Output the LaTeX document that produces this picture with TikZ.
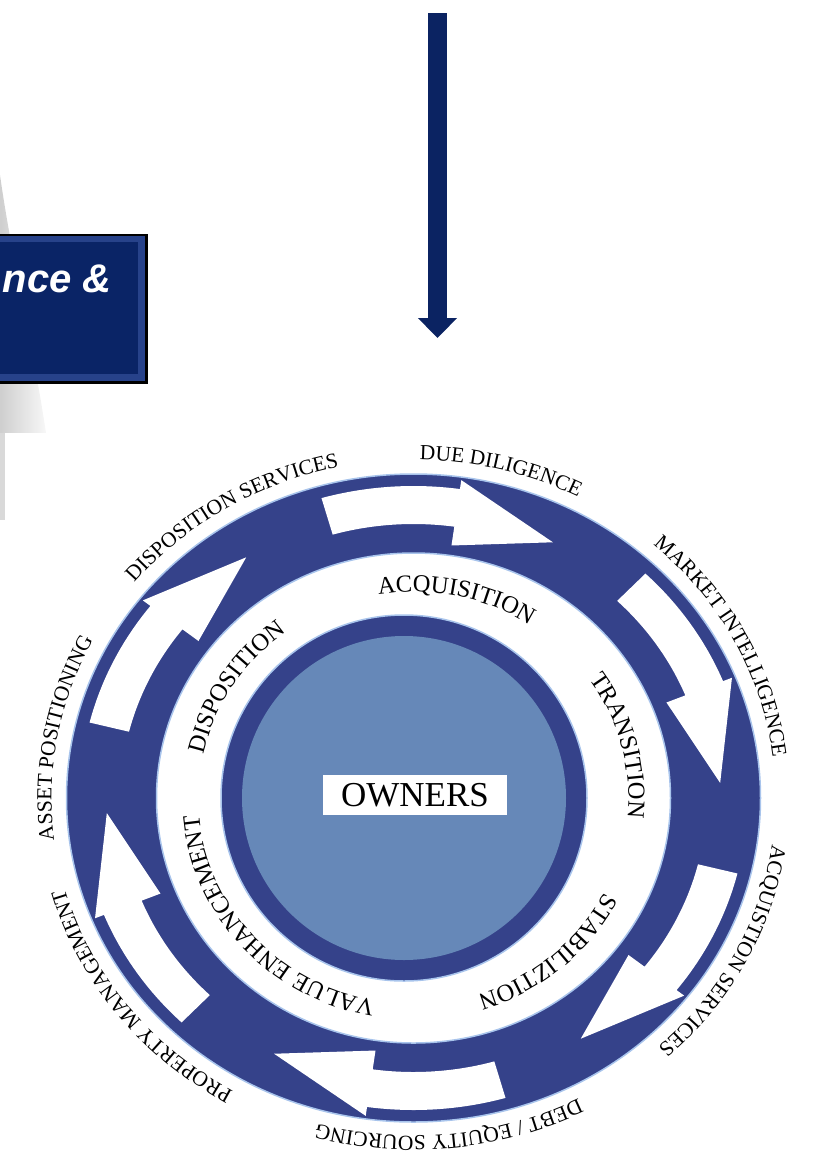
\documentclass[tikz,border=0pt]{standalone}
\usepackage{fontspec}
\setmainfont{Liberation Serif}
\newfontfamily\arialfont{Liberation Sans}
\usetikzlibrary{decorations.text,arrows.meta}
\definecolor{ringblue}{HTML}{35428A}
\definecolor{lightblue}{HTML}{6688B8}
\definecolor{glow}{HTML}{A8C4EC}
\definecolor{navyarrow}{HTML}{0B2362}
\definecolor{boxedge}{HTML}{27428A}
\definecolor{boxnavy}{HTML}{0A2466}
\newcommand\olabfont{\fontsize{21.5}{21.5}\selectfont}
\newcommand\ilabfont{\fontsize{24.5}{24.5}\selectfont}
\tikzset{
  outerlabel/.style={decorate,decoration={text along path,text align=center,text={|\olabfont|#1}}},
  innerlabel/.style={decorate,decoration={text along path,text align=center,text={|\ilabfont|#1}}},
  cyclearrow/.style={fill=white},
  ringedge/.style={draw=glow,line width=1.5pt},
}
\begin{document}
\begin{tikzpicture}[x=1pt,y=-1pt]
\useasboundingbox (0,0) rectangle (817,1163);
% grey backdrop at top left
\shade[left color=gray!38,right color=gray!6] (0,175) .. controls (12,260) and (32,340) .. (46,433) -- (0,433) -- cycle;
\fill[gray!30] (0,433) rectangle (5,520);
\fill[white] (5,433) rectangle (817,1163);
% title box (cut off at the left)
\fill[black] (-2,234) rectangle (148,384);
\fill[boxedge] (-2,236) rectangle (145,381);
\fill[boxnavy] (-2,242) rectangle (138,374);
\node[anchor=base east,text=white,font=\arialfont\bfseries\itshape\fontsize{40}{40}\selectfont,inner sep=0pt] (boxtext) at (112,292) {nce \&};
% top arrow
\coordinate (arrowtop) at (437.5,13);
\coordinate (arrowtip) at (437.5,338);
\draw[navyarrow,line width=19pt,-{Triangle[width=38pt,length=20pt]}] (arrowtop) -- (arrowtip);
% cycle diagram
\begin{scope}[shift={(413.5,798)},yscale=-1]
  \fill[ringblue,even odd rule] (0,0) ellipse[x radius=347,y radius=324] (0,0) ellipse[x radius=257,y radius=245];
  \draw[ringedge] (0,0) ellipse[x radius=347,y radius=324];
  \draw[ringedge] (0,0) ellipse[x radius=257,y radius=245];
  \fill[ringblue] (-9.5,0) circle[radius=183];
  \draw[ringedge] (-9.5,0) circle[radius=183];
  \fill[lightblue] (-9.5,0) circle[radius=162];
  \begin{scope}[xscale=1.07]
    \foreach \k in {0,...,5}{
      \pgfmathsetmacro\T{106-60*\k}
      \pgfmathsetmacro\H{82-60*\k}
      \pgfmathsetmacro\P{63-60*\k}
      \fill[cyclearrow] (\T:312) arc[start angle=\T,end angle=\H,radius=312] -- (\H:321) -- (\P:287) -- (\H:255) -- (\H:274) arc[start angle=\H,end angle=\T,radius=274] -- cycle;
    }
  \end{scope}
  % outer labels
  \path[outerlabel={DISPOSITION SERVICES}] (172:362 and 338) arc[start angle=172,end angle=72,x radius=362,y radius=338];
  \path[outerlabel={DUE DILIGENCE}] (125.5:362 and 338) arc[start angle=125.5,end angle=25.5,x radius=362,y radius=338];
  \path[outerlabel={MARKET INTELLIGENCE}] (77:362 and 338) arc[start angle=77,end angle=-23,x radius=362,y radius=338];
  \path[outerlabel={ACQUISTION SERVICES}] (23:362 and 338) arc[start angle=23,end angle=-77,x radius=362,y radius=338];
  \path[outerlabel={DEBT / EQUITY SOURCING}] (-34:362 and 338) arc[start angle=-34,end angle=-134,x radius=362,y radius=338];
  \path[outerlabel={PROPERTY MANAGEMENT}] (-93:362 and 338) arc[start angle=-93,end angle=-193,x radius=362,y radius=338];
  \path[outerlabel={ASSET POSITIONING}] (220:362 and 338) arc[start angle=220,end angle=120,x radius=362,y radius=338];
  % inner labels
  \path[innerlabel={ACQUISITION}] (128:215 and 206) arc[start angle=128,end angle=28,x radius=215,y radius=206];
  \path[innerlabel={TRANSITION}] (64.5:215 and 206) arc[start angle=64.5,end angle=-35.5,x radius=215,y radius=206];
  \path[innerlabel={STABILIZTION}] (0.5:215 and 206) arc[start angle=0.5,end angle=-99.5,x radius=215,y radius=206];
  \path[innerlabel={VALUE ENHANCEMENT}] (-88:215 and 206) arc[start angle=-88,end angle=-188,x radius=215,y radius=206];
  \path[innerlabel={DISPOSITION}] (197.5:215 and 206) arc[start angle=197.5,end angle=97.5,x radius=215,y radius=206];
\end{scope}
\node[fill=white,inner sep=0pt,minimum width=184pt,minimum height=40pt,font=\fontsize{35}{35}\selectfont] (owners) at (415,795) {OWNERS};
\end{tikzpicture}
\end{document}
